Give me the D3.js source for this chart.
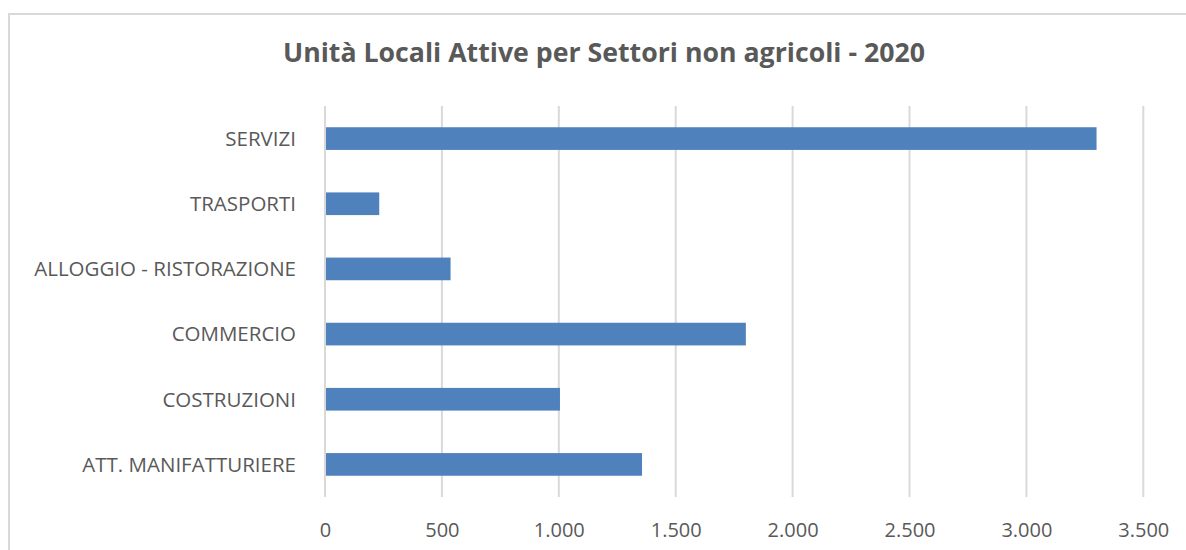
<!DOCTYPE html>
<html>
<head>
<meta charset="utf-8">
<script src="https://cdn.jsdelivr.net/npm/d3@7"></script>
<style>
  body { margin: 0; background: #fff; }
  text { font-family: "Open Sans", "Noto Sans", sans-serif; fill: #595959; }
</style>
</head>
<body>
<svg id="chart" width="1186" height="550"></svg>
<script>
// chart data
var categories = ["SERVIZI", "TRASPORTI", "ALLOGGIO - RISTORAZIONE", "COMMERCIO", "COSTRUZIONI", "ATT. MANIFATTURIERE"];
var values = [3300, 232, 537, 1800, 1005, 1356];
var tickValues = [0, 500, 1000, 1500, 2000, 2500, 3000, 3500];
var title = "Unità Locali Attive per Settori non agricoli - 2020";

var svg = d3.select("#chart");

// outer chart border (left + top only visible)
svg.append("path")
  .attr("d", "M9,550 V14 H1186")
  .attr("fill", "none")
  .attr("stroke", "#d9d9d9")
  .attr("stroke-width", 2);

// title
svg.append("text")
  .attr("x", 604)
  .attr("y", 62)
  .attr("text-anchor", "middle")
  .attr("font-weight", "bold")
  .attr("font-size", 27)
  .attr("textLength", 642)
  .attr("lengthAdjust", "spacingAndGlyphs")
  .text(title);

var plot = { left: 325, right: 1143.3, top: 106, bottom: 497 };

var x = d3.scaleLinear().domain([0, 3500]).range([plot.left, plot.right]);
var y = d3.scaleBand().domain(categories).range([plot.top, plot.bottom]).paddingInner(0.652).paddingOuter(0.326);

// gridlines
svg.append("g").selectAll("line")
  .data(tickValues)
  .enter().append("line")
  .attr("x1", function(d){ return x(d); })
  .attr("x2", function(d){ return x(d); })
  .attr("y1", plot.top)
  .attr("y2", plot.bottom)
  .attr("stroke", "#d9d9d9")
  .attr("stroke-width", 2);

// bars
svg.append("g").selectAll("rect")
  .data(values)
  .enter().append("rect")
  .attr("x", x(0) + 1)
  .attr("y", function(d, i){ return y(categories[i]); })
  .attr("width", function(d){ return x(d) - x(0) - 1; })
  .attr("height", y.bandwidth())
  .attr("fill", "#4f81bd");

// x axis labels
var fmt = function(d){ return d3.format(",")(d).replace(/,/g, "."); };
var xAxis = d3.axisBottom(x).tickValues(tickValues).tickFormat(fmt).tickSize(0).tickPadding(0);
var gx = svg.append("g").attr("transform", "translate(0," + plot.bottom + ")").call(xAxis);
gx.select(".domain").remove();
gx.selectAll("text")
  .attr("y", 40)
  .attr("dy", null)
  .attr("font-size", 20)
  .style("font-family", "\"Open Sans\", sans-serif")
  .attr("fill", "#595959");

// category labels
var yAxis = d3.axisLeft(y).tickSize(0).tickPadding(0);
var gy = svg.append("g").attr("transform", "translate(296,0)").call(yAxis);
gy.select(".domain").remove();
gy.selectAll("text")
  .attr("font-size", 20.5)
  .attr("dy", "0.36em")
  .style("font-family", "\"Open Sans\", sans-serif")
  .attr("fill", "#595959");
</script>
</body>
</html>
